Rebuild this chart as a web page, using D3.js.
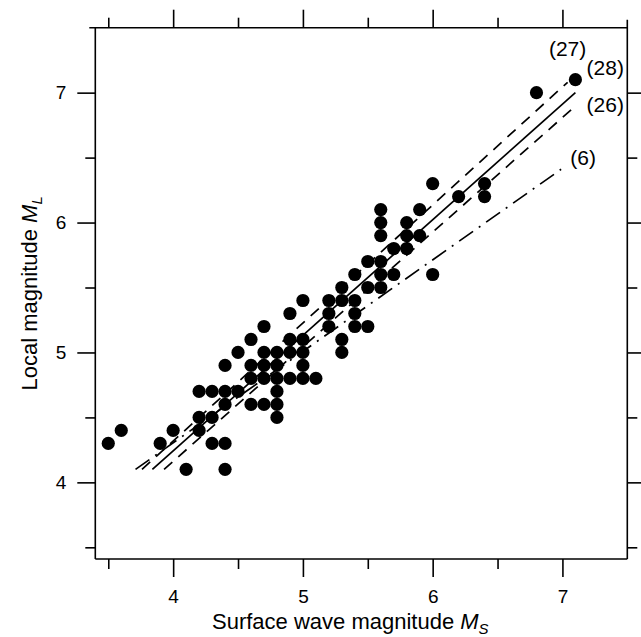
<!DOCTYPE html>
<html>
<head>
<meta charset="utf-8">
<script src="https://cdn.jsdelivr.net/npm/d3@7"></script>
<style>
  body { margin: 0; background: #fff; }
  svg { display: block; font-family: "Liberation Sans", Arial, Helvetica, sans-serif; }
</style>
</head>
<body>
<div class="chart"></div>
<script>
// event magnitudes (Ms, ML)
const surfaceMag = [3.5, 3.6, 3.9, 4.0, 4.1,
  4.2, 4.2, 4.2, 4.3, 4.3, 4.3,
  4.4, 4.4, 4.4, 4.4, 4.4, 4.5, 4.5,
  4.6, 4.6, 4.6, 4.6, 4.7, 4.7, 4.7, 4.7, 4.7,
  4.8, 4.8, 4.8, 4.8, 4.8, 4.8, 4.9, 4.9, 4.9, 4.9,
  5.0, 5.0, 5.0, 5.0, 5.0, 5.1,
  5.2, 5.2, 5.2, 5.3, 5.3, 5.3, 5.3,
  5.4, 5.4, 5.4, 5.4, 5.5, 5.5, 5.5,
  5.6, 5.6, 5.6, 5.6, 5.6, 5.6, 5.7, 5.7,
  5.8, 5.8, 5.8, 5.9, 5.9, 6.0, 6.0, 6.2, 6.4, 6.4, 6.8, 7.1]
const localMag = [4.3, 4.4, 4.3, 4.4, 4.1,
  4.4, 4.5, 4.7, 4.3, 4.5, 4.7,
  4.1, 4.3, 4.6, 4.7, 4.9, 4.7, 5.0,
  4.6, 4.8, 4.9, 5.1, 4.6, 4.8, 4.9, 5.0, 5.2,
  4.5, 4.6, 4.7, 4.8, 4.9, 5.0, 4.8, 5.0, 5.1, 5.3,
  4.8, 4.9, 5.0, 5.1, 5.4, 4.8,
  5.2, 5.3, 5.4, 5.0, 5.1, 5.4, 5.5,
  5.2, 5.3, 5.4, 5.6, 5.2, 5.5, 5.7,
  5.5, 5.6, 5.7, 5.9, 6.0, 6.1, 5.6, 5.8,
  5.8, 5.9, 6.0, 5.9, 6.1, 5.6, 6.3, 6.2, 6.2, 6.3, 7.0, 7.1]

// regression lines, end points in (Ms, ML)
const fitNames = ["(27)", "(28)", "(26)", "(6)"]
const fitStart = [[3.76, 4.1], [3.84, 4.1], [3.93, 4.1], [3.71, 4.1]]
const fitEnd = [[7.04, 7.08], [7.1, 7.0], [7.07, 6.87], [6.99, 6.41]]
const fitDash = ["11,8", null, "11,8", "17,7,2,7"]
const fitLabelAt = [[7.04, 7.34], [7.33, 7.19], [7.33, 6.91], [7.16, 6.5]]

const majorTicks = [4, 5, 6, 7]
const minorTicks = [3.5, 4.5, 5.5, 6.5]

const margin = ({top: 27.7, right: 13.7, bottom: 78, left: 95.3})
const width = 641 - margin.left - margin.right
const height = 637 - margin.top - margin.bottom

const svg = d3.select('.chart').append('svg')
    .attr("width", 641)
    .attr("height", 637)
    .append("g")
    .attr("transform", "translate(" + margin.left + "," + margin.top + ")")

const xScale = d3.scaleLinear()
    .domain([3.4, 7.5])
    .range([0, width])

const yScale = d3.scaleLinear()
    .domain([3.41, 7.5])
    .range([height, 0])

// AXES: major with labels, minor short, mirrored on top/right
function drawAxis(axisFn, transform, ticks, size, labels) {
    const ax = axisFn.tickValues(ticks).tickSize(size).tickSizeOuter(0)
        .tickFormat(labels ? d3.format("d") : "")
    const g = svg.append("g")
        .attr("transform", transform)
        .call(ax)
        .attr("font-family", null)
        .attr("font-size", 19)
    g.select(".domain").remove()
    g.selectAll("line").attr("stroke", "#000").attr("stroke-width", 1.6)
    g.selectAll("text").attr("fill", "#000")
    return g
}

drawAxis(d3.axisBottom(xScale).tickPadding(13), `translate(0,${height})`, majorTicks, 18, true)
drawAxis(d3.axisBottom(xScale), `translate(0,${height})`, minorTicks, 10, false)
drawAxis(d3.axisTop(xScale), "translate(0,0)", majorTicks, 18, false)
drawAxis(d3.axisTop(xScale), "translate(0,0)", minorTicks, 10, false)
drawAxis(d3.axisLeft(yScale).tickPadding(11), "translate(0,0)", majorTicks, 18, true)
drawAxis(d3.axisLeft(yScale), "translate(0,0)", minorTicks, 10, false)
drawAxis(d3.axisRight(yScale), `translate(${width},0)`, majorTicks, 18, false)
drawAxis(d3.axisRight(yScale), `translate(${width},0)`, minorTicks, 10, false)

// frame
const frame = svg.append("g").attr("stroke", "#000").attr("stroke-width", 1.6)
frame.append("line").attr("x1", -6).attr("x2", width).attr("y1", 0).attr("y2", 0)
frame.append("line").attr("x1", 0).attr("x2", 0).attr("y1", 0).attr("y2", height)
frame.append("line").attr("x1", width).attr("x2", width).attr("y1", -8).attr("y2", height)
frame.append("line").attr("x1", 0).attr("x2", width).attr("y1", height).attr("y2", height)

// LINES
svg.append("g")
    .selectAll("line")
    .data(fitNames)
    .join("line")
    .attr("x1", (d, i) => xScale(fitStart[i][0]))
    .attr("y1", (d, i) => yScale(fitStart[i][1]))
    .attr("x2", (d, i) => xScale(fitEnd[i][0]))
    .attr("y2", (d, i) => yScale(fitEnd[i][1]))
    .attr("stroke", "#000")
    .attr("stroke-width", 1.7)
    .attr("stroke-dasharray", (d, i) => fitDash[i])

svg.append("g")
    .selectAll("text")
    .data(fitNames)
    .join("text")
    .attr("x", (d, i) => xScale(fitLabelAt[i][0]))
    .attr("y", (d, i) => yScale(fitLabelAt[i][1]))
    .attr("text-anchor", "middle")
    .attr("dy", "0.35em")
    .attr("font-size", 21)
    .text(d => d)

// CIRCLES
svg.append("g")
    .selectAll("circle")
    .data(surfaceMag)
    .join("circle")
    .attr("cx", d => xScale(d))
    .attr("cy", (d, i) => yScale(localMag[i]))
    .attr("r", 6.6)
    .attr("fill", "#000")

// TITLES
const xt = svg.append("text")
    .attr("x", 255)
    .attr("y", height + 70)
    .attr("text-anchor", "middle")
    .attr("font-size", 22)
xt.append("tspan").text("Surface wave magnitude ")
xt.append("tspan").attr("font-style", "italic").text("M")
xt.append("tspan").attr("font-size", 15).attr("dy", 5).attr("font-style", "italic").text("S")

const yt = svg.append("text")
    .attr("transform", `translate(-58,${height / 2}) rotate(-90)`)
    .attr("text-anchor", "middle")
    .attr("font-size", 22)
yt.append("tspan").text("Local magnitude ")
yt.append("tspan").attr("font-style", "italic").text("M")
yt.append("tspan").attr("font-size", 15).attr("dy", 5).attr("font-style", "italic").text("L")
</script>
</body>
</html>
